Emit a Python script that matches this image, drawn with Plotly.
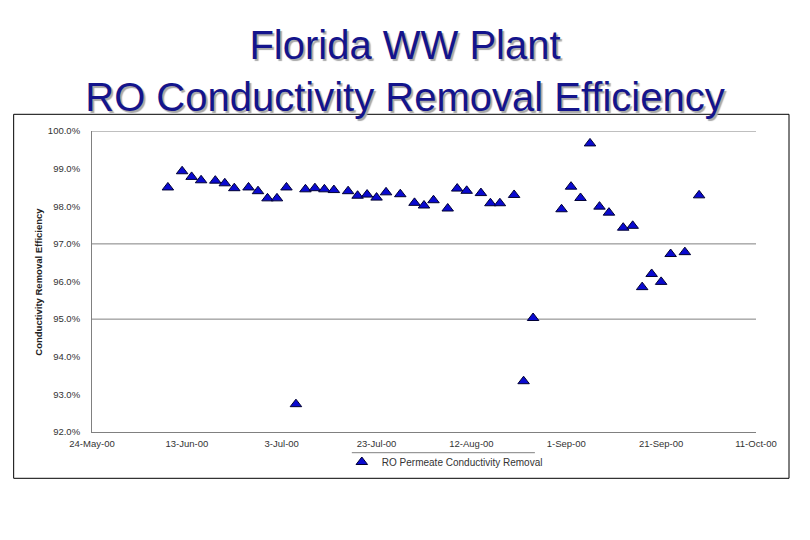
import plotly.graph_objects as go

dates = [
    "2000-06-09", "2000-06-12", "2000-06-14", "2000-06-16", "2000-06-19", "2000-06-21",
    "2000-06-23", "2000-06-26", "2000-06-28", "2000-06-30", "2000-07-02", "2000-07-04",
    "2000-07-06", "2000-07-08", "2000-07-10", "2000-07-12", "2000-07-14", "2000-07-17",
    "2000-07-19", "2000-07-21", "2000-07-23", "2000-07-25", "2000-07-28", "2000-07-31",
    "2000-08-02", "2000-08-04", "2000-08-07", "2000-08-09", "2000-08-11", "2000-08-14",
    "2000-08-16", "2000-08-18", "2000-08-21", "2000-08-23", "2000-08-25", "2000-08-31",
    "2000-09-02", "2000-09-04", "2000-09-06", "2000-09-08", "2000-09-10", "2000-09-13",
    "2000-09-15", "2000-09-17", "2000-09-19", "2000-09-21", "2000-09-23", "2000-09-26",
    "2000-09-29",
]
efficiency = [
    98.50, 98.93, 98.78, 98.69, 98.68, 98.61,
    98.48, 98.50, 98.40, 98.21, 98.21, 98.50,
    92.74, 98.45, 98.48, 98.45, 98.43, 98.40,
    98.28, 98.31, 98.23, 98.37, 98.32, 98.09,
    98.02, 98.16, 97.94, 98.47, 98.41, 98.35,
    98.08, 98.08, 98.30, 93.35, 95.03, 97.92,
    98.52, 98.22, 99.67, 97.99, 97.83, 97.43,
    97.48, 95.85, 96.20, 95.99, 96.73, 96.78,
    98.29,
]
series_name = "RO Permeate Conductivity Removal"
y_gridlines = [100, 97, 95]

fig = go.Figure()
fig.add_trace(go.Scatter(
    x=dates, y=efficiency, mode="markers", name=series_name,
    marker=dict(symbol="triangle-up", size=10, color="#0a0ad0",
                line=dict(color="#000033", width=1)),
))

PW, PH = 663.7, 301.0
L, T = 92.3, 131.0
def px(x):
    return (x - L) / PW
def py(y):
    return (T + PH - y) / PH

shapes = []
for g in y_gridlines:
    shapes.append(dict(type="line", xref="paper", yref="y", x0=0, x1=1, y0=g, y1=g,
                       line=dict(color="#808080", width=1), layer="below"))
# outer frame
shapes.append(dict(type="rect", xref="paper", yref="paper",
                   x0=px(14), x1=px(789), y0=py(478.3), y1=py(114.3),
                   line=dict(color="#000000", width=1)))
# legend top line
shapes.append(dict(type="line", xref="paper", yref="paper",
                   x0=px(352), x1=px(535), y0=py(452.7), y1=py(452.7),
                   line=dict(color="#808080", width=1)))

fig.update_layout(
    width=810, height=540,
    margin=dict(l=92, r=54, t=131, b=108),
    paper_bgcolor="white", plot_bgcolor="white",
    font=dict(family="Liberation Sans, Arial, sans-serif", color="#222222"),
    title=dict(
        text="Florida WW Plant<br>RO Conductivity Removal Efficiency",
        x=0.5, xanchor="center", y=1 - 59 / 540, yanchor="middle", yref="container",
        font=dict(size=40, color="#14148c", family="Liberation Sans, Arial, sans-serif",
                  shadow="2px 2px 1px #a8a8a8"),
    ),
    xaxis=dict(
        type="date", range=["2000-05-24", "2000-10-11"],
        tick0="2000-05-24", dtick=20 * 86400000, tickformat="%-d-%b-%y",
        showgrid=False, showline=True, linecolor="#808080", linewidth=1,
        ticks="", tickfont=dict(size=9.5, color="#333333"), ticklabelstandoff=3,
        zeroline=False,
    ),
    yaxis=dict(
        range=[92, 100], dtick=1, tickformat=".1f",
        ticksuffix="%", showgrid=False, showline=True, linecolor="#808080",
        linewidth=1, ticks="", tickfont=dict(size=9.5, color="#333333"),
        ticklabelstandoff=9, zeroline=False,
    ),
    shapes=shapes,
    showlegend=True,
    legend=dict(x=px(342), xanchor="left", y=py(462), yanchor="middle",
                font=dict(size=10, color="#333333"), bgcolor="rgba(0,0,0,0)",
                itemwidth=30),
    annotations=[dict(
        text="<b>Conductivity Removal Efficiency</b>", textangle=-90,
        xref="paper", yref="paper", x=px(38.5), y=py(281.5),
        xanchor="center", yanchor="middle", showarrow=False,
        font=dict(size=9.5, color="#222222"),
    )],
)

fig.write_html("out.html", config={"displayModeBar": False},
               post_script="document.body.style.margin='0';")
